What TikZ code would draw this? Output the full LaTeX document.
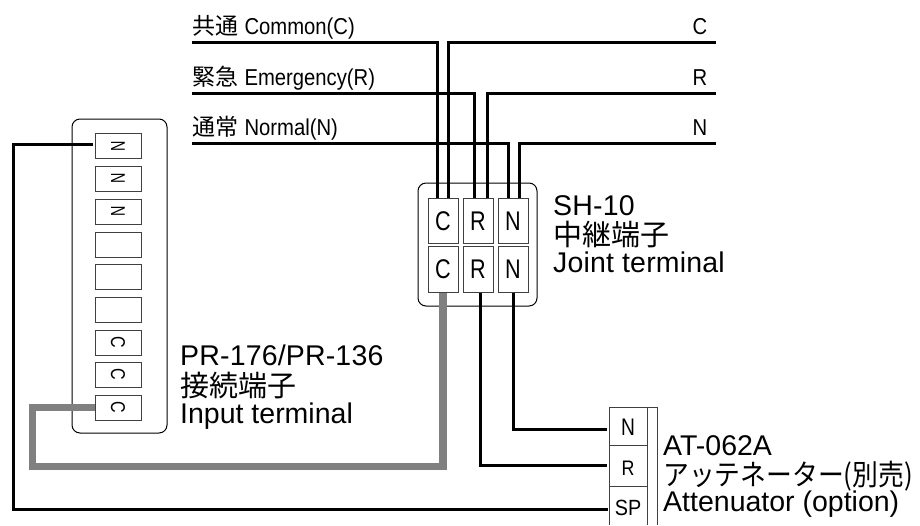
\documentclass[tikz,border=0pt]{standalone}
\usepackage{fontspec}
\usetikzlibrary{calc}
\setmainfont{Liberation Sans}
\newfontfamily\cjk{Noto Sans CJK JP}
\newfontfamily\wide[LetterSpace=0.6]{Liberation Sans}
\tikzset{
  wire/.style={draw=black,line width=3pt},
  graywire/.style={draw=black!50,line width=7.5pt},
  housing/.style={draw=black,line width=1pt,rounded corners=8pt},
  termbox/.style={draw=black!75,line width=1pt,rectangle,inner sep=0pt,minimum width=46pt,minimum height=25pt,fill=white},
  jointbox/.style={draw=black!75,line width=1pt,rectangle,inner sep=0pt,minimum width=30pt,minimum height=45.5pt,fill=white},
  cell/.style={rectangle,inner sep=0pt,minimum width=38pt},
  lbl/.style={anchor=base west,inner sep=0pt,font=\fontsize{28.5}{28.5}\selectfont\wide},
  plainlbl/.style={anchor=base west,inner sep=0pt,font=\fontsize{28.5}{28.5}\selectfont},
  clbl/.style={anchor=base west,inner sep=0pt,font=\fontsize{29}{29}\selectfont\cjk},
  toplbl/.style={anchor=base west,inner sep=0pt,font=\fontsize{23}{23}\selectfont},
  side/.style={anchor=base,inner sep=0pt,font=\fontsize{23}{23}\selectfont},
}
\newcommand{\rotN}{\rotatebox{90}{\scalebox{0.72}[1]{\fontsize{20}{20}\selectfont N}}}
\newcommand{\rotC}{\rotatebox{-90}{\scalebox{0.8}[1]{\fontsize{20}{20}\selectfont C}}}
\newcommand{\jt}[1]{\scalebox{0.8}[1]{\fontsize{27}{27}\selectfont #1}}
\newcommand{\cnd}[1]{\scalebox{0.88}[1]{#1}}
\begin{document}
\begin{tikzpicture}[x=1pt,y=-1pt]
\useasboundingbox (0,0) rectangle (920,525);
% housings
\draw[housing] (72,119) rectangle (167,433);
\draw[housing] (418,183) rectangle (537,306);
% input terminals
\node[termbox] (p1) at (118,146) {\rotN};
\node[termbox] (p2) at (118,178.5) {\rotN};
\node[termbox] (p3) at (118,211.5) {\rotN};
\node[termbox] (p4) at (118,244.5) {};
\node[termbox] (p5) at (118,276.5) {};
\node[termbox] (p6) at (118,309.5) {};
\node[termbox] (p7) at (118,342.5) {\rotC};
\node[termbox] (p8) at (118,374.5) {\rotC};
\node[termbox] (p9) at (118,407.5) {\rotC};
% joint terminals
\node[jointbox] (jc1) at (443,221) {\jt{C}};
\node[jointbox] (jr1) at (478,221) {\jt{R}};
\node[jointbox] (jn1) at (513,221) {\jt{N}};
\node[jointbox] (jc2) at (443,269.5) {\jt{C}};
\node[jointbox] (jr2) at (478,269.5) {\jt{R}};
\node[jointbox] (jn2) at (513,269.5) {\jt{N}};
% attenuator
\draw[draw=black!75,line width=1pt] (609,525) -- (609,407) -- (657,407) -- (657,525);
\draw[draw=black!75,line width=1pt] (647.5,407) -- (647.5,525);
\draw[draw=black!75,line width=1pt] (609,445) -- (647.5,445);
\draw[draw=black!75,line width=1pt] (609,486) -- (647.5,486);
\node[cell,minimum height=38pt] (an) at (628,427) {\scalebox{0.8}[1]{\fontsize{24}{24}\selectfont N}};
\node[cell,minimum height=41pt] (ar) at (628,468.5) {\scalebox{0.85}[1]{\fontsize{21}{21}\selectfont R}};
\node[cell,minimum height=39pt] (as) at (628,507.5) {\scalebox{0.9}[1]{\fontsize{22}{22}\selectfont SP}};
% free ends
\coordinate (cl) at (192,42);
\coordinate (cr) at (716,42);
\coordinate (rl) at (192,93);
\coordinate (rr) at (716,93);
\coordinate (nl) at (192,143);
\coordinate (nr) at (716,143);
% bus wires
\draw[wire] (cl) -| ($(jc1.north)+(-6,0)$);
\draw[wire] (cr) -| ($(jc1.north)+(5,0)$);
\draw[wire] (rl) -| ($(jr1.north)+(-4,0)$);
\draw[wire] (rr) -| ($(jr1.north)+(9,0)$);
\draw[wire] (nl) -| ($(jn1.north)+(-5,0)$);
\draw[wire] (nr) -| ($(jn1.north)+(6,0)$);
% attenuator wires
\draw[wire] (jn2.south) |- ($(an.west)+(-2,2)$);
\draw[wire] ($(jr2.south)+(2,0)$) |- ($(ar.west)+(-2,-3.5)$);
\draw[wire] ($(p1.west)+(-2,-2)$) -| (13,509) -- ($(as.west)+(-1,1.5)$);
% gray wire
\draw[graywire,line cap=butt] (p9.west) -| (32.5,466.5) -| (jc2.south);
% labels
\node[toplbl] (t1) at (192,34) {{\cjk 共通} \cnd{Common(C)}};
\node[toplbl] (t2) at (192,85) {{\cjk 緊急} \cnd{Emergency(R)}};
\node[toplbl] (t3) at (192,135) {{\cjk 通常} \cnd{Normal(N)}};
\node[side] (s1) at (700,34) {\cnd{C}};
\node[side] (s2) at (700,85) {\cnd{R}};
\node[side] (s3) at (700,135) {\cnd{N}};
\node[lbl] (a1) at (180,365) {PR-176/PR-136};
\node[clbl] (a2) at (180,396) {接続端子};
\node[plainlbl] (a3) at (180,423) {Input terminal};
\node[lbl] (b1) at (553,215) {SH-10};
\node[clbl] (b2) at (553,245) {中継端子};
\node[lbl] (b3) at (553,272) {Joint terminal};
\node[plainlbl] (c1) at (663,455) {AT-062A};
\node[clbl] (c2) at (663,485) {\scalebox{0.89}[1]{アッテネーター(別売)}};
\node[plainlbl] (c3) at (663,511) {Attenuator (option)};
\end{tikzpicture}
\end{document}
